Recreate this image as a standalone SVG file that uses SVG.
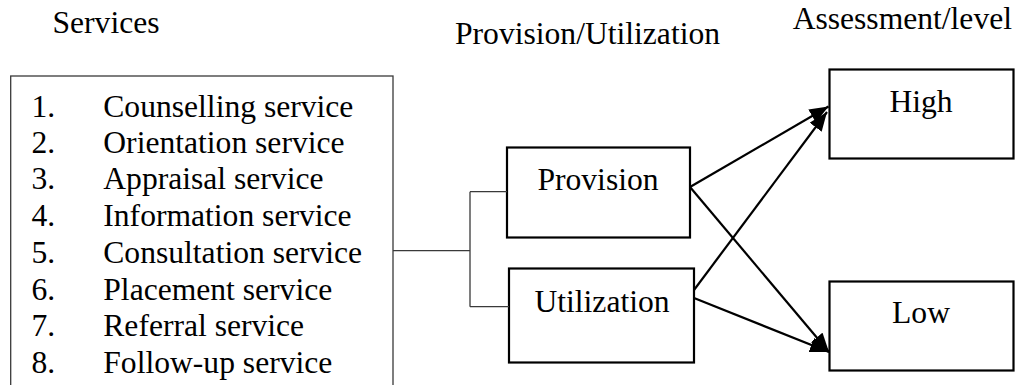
<svg xmlns="http://www.w3.org/2000/svg" width="1024" height="385" viewBox="0 0 1024 385">
  <style>
    text { font-family: "Liberation Serif", "Times New Roman", serif; font-size: 31.6px; fill: #000; }
    .mid { text-anchor: middle; }
    .box { fill: #fff; stroke: #000; stroke-width: 2.2; }
    .list { fill: #fff; stroke: #3a3a3a; stroke-width: 1.3; }
    .link { fill: none; stroke: #3a3a3a; stroke-width: 1.3; }
    .arrow { fill: none; stroke: #000; stroke-width: 2.2; }
  </style>
  <defs>
    <marker id="head" markerUnits="userSpaceOnUse" markerWidth="22" markerHeight="18" refX="19" refY="7.5" orient="auto">
      <path d="M0,0 L19,7.5 L0,15 Z" fill="#000"/>
    </marker>
  </defs>

  <!-- column headings -->
  <g id="headings">
    <text x="52.5" y="32.5">Services</text>
    <text x="455" y="43.5">Provision/Utilization</text>
    <text x="1012" y="28.5" style="text-anchor:end">Assessment/level</text>
  </g>

  <!-- list of services -->
  <g id="services">
    <rect class="list" x="10.7" y="76" width="382.3" height="330"/>
    <text x="31.5" y="116.7">1.</text><text x="103.3" y="116.7">Counselling service</text>
    <text x="31.5" y="152.9">2.</text><text x="103.3" y="152.9">Orientation service</text>
    <text x="31.5" y="189.3">3.</text><text x="103.3" y="189.3">Appraisal service</text>
    <text x="31.5" y="226.2">4.</text><text x="103.3" y="226.2">Information service</text>
    <text x="31.5" y="263">5.</text><text x="103.3" y="263">Consultation service</text>
    <text x="31.5" y="299.6">6.</text><text x="103.3" y="299.6">Placement service</text>
    <text x="31.5" y="336.4">7.</text><text x="103.3" y="336.4">Referral service</text>
    <text x="31.5" y="373">8.</text><text x="103.3" y="373">Follow-up service</text>
  </g>

  <g id="provision">
    <rect class="box" x="507" y="147.5" width="183" height="90"/>
    <text class="mid" x="598" y="189.5">Provision</text>
  </g>

  <g id="utilization">
    <rect class="box" x="509" y="268.5" width="185" height="94"/>
    <text class="mid" x="602" y="311.7">Utilization</text>
  </g>

  <g id="high">
    <rect class="box" x="829.5" y="69.5" width="184" height="89"/>
    <text class="mid" x="921" y="111.7">High</text>
  </g>

  <g id="low">
    <rect class="box" x="829.5" y="281.5" width="184" height="89"/>
    <text class="mid" x="921" y="323">Low</text>
  </g>

  <g id="connectors">
    <!-- bracket from the services list to both boxes -->
    <path class="link" d="M393,250.7 H470 M470,191.7 V306.7 M470,191.7 H507 M470,306.7 H509"/>
    <!-- arrows to the assessment levels -->
    <line class="arrow" x1="690" y1="187" x2="828.5" y2="106.5" marker-end="url(#head)"/>
    <line class="arrow" x1="690" y1="187" x2="829" y2="352" marker-end="url(#head)"/>
    <line class="arrow" x1="694" y1="290" x2="827" y2="112" marker-end="url(#head)"/>
    <line class="arrow" x1="694" y1="298" x2="829" y2="352" marker-end="url(#head)"/>
  </g>
</svg>
